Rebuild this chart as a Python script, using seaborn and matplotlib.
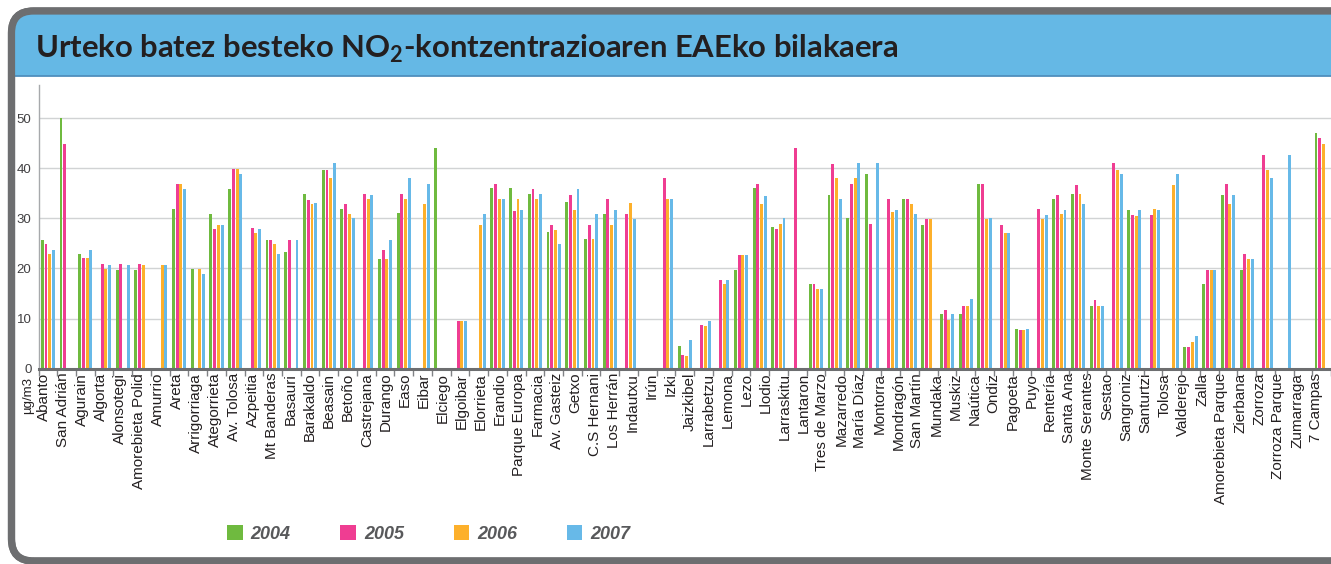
import numpy as np
import pandas as pd
import matplotlib
matplotlib.use("Agg")
import matplotlib.pyplot as plt
from matplotlib.patches import FancyBboxPatch, Rectangle
import seaborn as sns

nan = np.nan

# station labels as printed under the axis (68 labels, the chart draws 69 bar groups)
stations = ["Abanto", "San Adrián", "Agurain", "Algorta", "Alonsotegi", "Amorebieta Polid",
            "Amurrio", "Areta", "Arrigorriaga", "Ategorrieta", "Av. Tolosa", "Azpeitia",
            "Mt Banderas", "Basauri", "Barakaldo", "Beasain", "Betoño", "Castrejana",
            "Durango", "Easo", "Eibar", "Elciego", "Elgoibar", "Elorrieta", "Erandio",
            "Parque Europa", "Farmacia", "Av. Gasteiz", "Getxo", "C.S Hernani", "Los Herrán",
            "Indautxu", "Irún", "Izki", "Jaizkibel", "Larrabetzu", "Lemona", "Lezo", "Llodio",
            "Larraskitu", "Lantaron", "Tres de Marzo", "Mazarredo", "María Díaz", "Montorra",
            "Mondragón", "San Martín", "Mundaka", "Muskiz", "Naútica", "Ondiz", "Pagoeta",
            "Puyo", "Rentería", "Santa Ana", "Monte Serantes", "Sestao", "Sangroniz",
            "Santurtzi", "Tolosa", "Valderejo", "Zalla", "Amorebieta Parque", "Zierbana",
            "Zorroza", "Zorroza Parque", "Zumarraga", "7 Campas"]

years = ["2004", "2005", "2006", "2007"]

# annual mean NO2 (µg/m3), one value per bar group, left to right
v2004 = [25.6, 50.0, 22.8, nan, 19.7, 19.7, nan, 31.8, 19.8, 30.9,
         35.9, nan, 25.7, 23.2, 34.8, 39.7, 31.8, nan, 21.9, 31.0,
         nan, 44.1, nan, nan, 36.0, 36.0, 34.8, 27.2, 33.2, 25.8,
         30.8, nan, nan, nan, 4.5, nan, nan, 19.7, 36.0, 28.2,
         nan, 16.8, 34.7, 30.1, 38.9, nan, 33.8, 28.7, 10.9, 10.9,
         36.8, nan, 7.9, nan, 33.8, 34.8, 12.6, nan, 31.7, nan,
         nan, 4.4, 16.8, 34.7, 19.7, nan, nan, nan, 47.1]
v2005 = [24.8, 44.9, 22.0, 20.8, 20.8, 20.8, nan, 36.8, nan, 27.9,
         39.8, 28.1, 25.7, 25.7, 33.7, 39.7, 32.9, 34.8, 23.6, 34.8,
         nan, nan, 9.6, nan, 36.8, 31.4, 35.8, 28.6, 34.6, 28.7,
         33.8, 30.8, nan, 38.1, 2.7, 8.7, 17.6, 22.7, 36.8, 27.9,
         44.1, 16.8, 40.9, 36.8, 28.8, 33.8, 33.8, 29.9, 11.7, 12.6,
         36.8, 28.7, 7.8, 31.8, 34.7, 36.7, 13.8, 41.1, 30.6, 30.6,
         nan, 4.4, 19.7, 36.8, 22.8, 42.7, nan, nan, 46.1]
v2006 = [22.9, nan, 22.0, 19.8, nan, 20.7, 20.7, 36.8, 19.8, 28.7,
         39.8, 27.0, 24.9, nan, 32.9, 38.0, 30.9, 33.8, 21.9, 33.9,
         32.9, nan, 9.6, 28.7, 33.8, 33.8, 33.8, 27.7, 31.7, 25.9,
         28.7, 33.0, nan, 33.8, 2.5, 8.6, 16.8, 22.7, 32.9, 28.8,
         nan, 15.9, 38.0, 38.0, nan, 31.2, 32.9, 29.9, 9.7, 12.6,
         29.9, 27.0, 7.8, 29.9, 30.8, 34.8, 12.6, 39.7, 30.5, 31.8,
         36.6, 5.4, 19.7, 32.8, 21.8, 39.7, nan, nan, 44.9]
v2007 = [23.6, nan, 23.6, 20.7, 20.7, nan, 20.7, 35.9, 18.9, 28.7,
         38.9, 27.9, 22.8, 25.7, 33.0, 41.1, 30.1, 34.7, 25.6, 38.1,
         36.8, nan, 9.6, 30.8, 33.8, 31.7, 34.8, 24.9, 35.8, 30.9,
         31.7, 29.9, nan, 33.8, 5.7, 9.5, 17.6, 22.7, 34.5, 30.0,
         nan, 16.0, 33.8, 41.1, 41.1, 31.7, 30.8, nan, 11.0, 14.0,
         30.0, 27.0, 7.9, 30.7, 31.7, 32.9, 12.6, 38.9, 31.7, 31.7,
         38.9, 6.6, 19.7, 34.7, 21.8, 38.1, 42.6, nan, nan]

colors = ["#6fba3f", "#ef3d92", "#fdb02b", "#67b9e8"]

n_groups = len(v2004)
frames = []
for yr, vals in zip(years, [v2004, v2005, v2006, v2007]):
    frames.append(pd.DataFrame({"group": range(n_groups), "year": yr, "value": vals}))
df = pd.concat(frames, ignore_index=True)

sns.set_style("white")
plt.rcParams["font.family"] = ["Liberation Sans", "DejaVu Sans"]
plt.rcParams["mathtext.fontset"] = "custom"
plt.rcParams["mathtext.rm"] = "Lato:bold"
plt.rcParams["mathtext.bf"] = "Lato:bold"

fig = plt.figure(figsize=(13.31, 5.64), dpi=100)

# rounded frame with blue title band
frame = FancyBboxPatch((0.115, 0.03), 14.0, 5.50, boxstyle="round,pad=0,rounding_size=0.22",
                       transform=fig.dpi_scale_trans, facecolor="white",
                       edgecolor="#6d6e70", linewidth=5.2, zorder=-5)
fig.add_artist(frame)
band = Rectangle((0.0, 4.885), 14.0, 0.8, transform=fig.dpi_scale_trans,
                 facecolor="#65b8e5", edgecolor="none", zorder=-4)
band.set_clip_path(frame)
fig.add_artist(band)
fig.add_artist(plt.Line2D([0.15, 14.0], [4.885, 4.885], transform=fig.dpi_scale_trans,
                          color="#4f8fbd", linewidth=1.3, zorder=-3))
fig.add_artist(FancyBboxPatch((0.115, 0.03), 14.0, 5.50, boxstyle="round,pad=0,rounding_size=0.22",
                              transform=fig.dpi_scale_trans, facecolor="none",
                              edgecolor="#6d6e70", linewidth=5.2, zorder=-2))

fig.text(35 / 1331, 1 - 58 / 564, "Urteko batez besteko NO$_2$-kontzentrazioaren EAEko bilakaera",
         fontsize=22.3, fontweight="bold", family="Lato", color="#231f20", va="baseline")

ax = fig.add_axes([38.5 / 1331, (564 - 368.7) / 564, 1 - 38.5 / 1331, (368.7 - 85) / 564])
ax.set_facecolor("none")

sns.barplot(data=df, x="group", y="value", hue="year", order=list(range(n_groups)),
            hue_order=years, palette=colors, saturation=1, width=0.8, gap=0.22,
            errorbar=None, linewidth=0, ax=ax)

ax.set_xlim(-0.5, -0.5 + (1331 - 38.5) / 18.78)
ax.set_ylim(0, 56.6)
ax.set_xlabel("")
ax.set_ylabel("")

# labels are spread evenly over the groups, as in the source chart
label_pos = np.linspace(-0.2, n_groups - 1.3, len(stations))
ax.set_xticks(label_pos)
ax.set_xticklabels(stations, rotation=90, fontsize=11, color="#231f20")
ax.set_xticks(np.arange(-0.5, n_groups, 1), minor=True)
ax.tick_params(axis="x", which="major", length=0, pad=3)
ax.tick_params(axis="x", which="minor", length=5, width=1, color="#808285", bottom=True)

ax.set_yticks(range(0, 51, 10))
ax.tick_params(axis="y", labelsize=9.5, labelcolor="#414042", length=0, pad=5)
ax.yaxis.grid(True, color="#d1d3d4", linewidth=1)
ax.xaxis.grid(False)
ax.set_axisbelow(True)

for side in ["top", "right"]:
    ax.spines[side].set_visible(False)
ax.spines["bottom"].set_color("#6d6e70")
ax.spines["bottom"].set_linewidth(2.2)
ax.spines["left"].set_color("#a7a9ac")
ax.spines["left"].set_linewidth(1)

fig.text(28 / 1331, 1 - 377 / 564, "µg/m3", rotation=90, ha="center", va="top",
         fontsize=9.5, color="#231f20")

handles, labels = ax.get_legend_handles_labels()
ax.get_legend().remove()
fig.legend(handles, labels, loc="center left", bbox_to_anchor=(211 / 1331, 1 - 534 / 564),
           ncol=4, frameon=False, handlelength=0.85, handleheight=0.85, handletextpad=0.45,
           columnspacing=2.75, labelcolor="#58595b",
           prop={"weight": "bold", "style": "italic", "size": 13, "family": "Liberation Sans"})

fig.savefig("out.png", dpi=100)
